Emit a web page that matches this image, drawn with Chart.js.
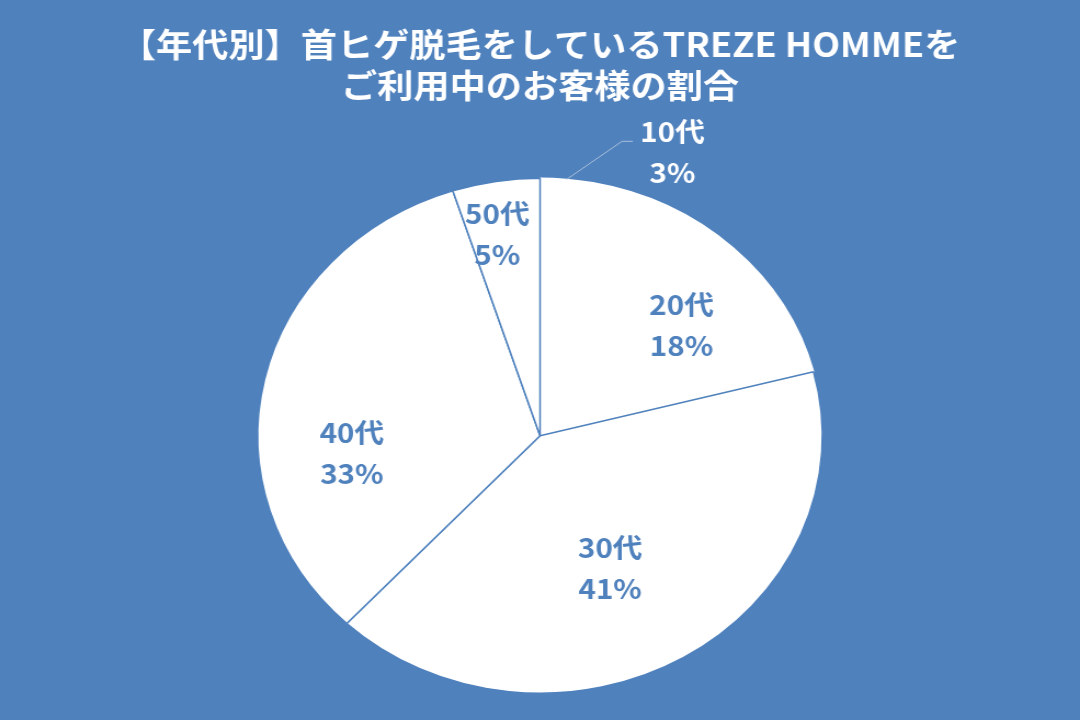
<!DOCTYPE html>
<html>
<head>
<meta charset="utf-8">
<script src="https://cdn.jsdelivr.net/npm/chart.js@4"></script>
<style>
    html, body {
        margin: 0;
        padding: 0;
        background: #4f81bd;
        overflow: hidden;
    }
    /* 元画像は横に引き伸ばされているので、同じように横方向に拡大する */
    #wrap {
        width: 985px;
        height: 720px;
        transform: scaleX(1.0965);
        transform-origin: 0 0;
    }
</style>
</head>
<body>
<div id="wrap"><canvas id="myChart"></canvas></div>
<script>
const titleLines = ['【年代別】首ヒゲ脱毛をしているTREZE HOMMEを', 'ご利用中のお客様の割合'];
const ageGroups = ['10代', '20代', '30代', '40代', '50代'];
const shares = [3, 18, 41, 33, 5];

const mainBlue = '#4f81bd';

// ラベルの位置（弧の中心角からのずれ・半径に対する比率）
const labelPlace = {
    angleShift: [17.6, 6.2, 4.8, -18.3, -1.9],
    radiusRatio: [1.2, 0.66, 0.57, 0.67, 0.8],
    color: ['#ffffff', mainBlue, mainBlue, mainBlue, mainBlue],
};

const sliceLabels = {
    id: 'sliceLabels',
    afterDatasetsDraw(chart) {
        const ctx = chart.ctx;
        const meta = chart.getDatasetMeta(0);
        const total = shares.reduce((a, b) => a + b, 0);

        meta.data.forEach((arc, i) => {
            const p = arc.getProps(['x', 'y', 'startAngle', 'endAngle', 'outerRadius'], true);
            const mid = (p.startAngle + p.endAngle) / 2;
            const ang = mid + labelPlace.angleShift[i] * Math.PI / 180;
            const r = p.outerRadius * labelPlace.radiusRatio[i];
            const lx = p.x + Math.cos(ang) * r;
            const ly = p.y + Math.sin(ang) * r;

            // 外側のラベルには引き出し線
            if (labelPlace.radiusRatio[i] > 1) {
                const ex = p.x + Math.cos(mid) * p.outerRadius;
                const ey = p.y + Math.sin(mid) * p.outerRadius;
                ctx.save();
                ctx.strokeStyle = '#a9bfdc';
                ctx.lineWidth = 1;
                ctx.beginPath();
                ctx.moveTo(ex, ey);
                ctx.lineTo(lx - 46, ly - 10);
                ctx.lineTo(lx - 36, ly - 10);
                ctx.stroke();
                ctx.restore();
            }

            ctx.save();
            ctx.fillStyle = labelPlace.color[i];
            ctx.font = 'bold 27px "Noto Sans CJK JP", "Noto Sans", sans-serif';
            ctx.textAlign = 'center';
            ctx.textBaseline = 'middle';
            ctx.fillText(ageGroups[i], lx, ly - 20);
            ctx.fillText(Math.round(shares[i] / total * 100) + '%', lx, ly + 21);
            ctx.restore();
        });
    }
};

const ctx = document.getElementById('myChart');

new Chart(ctx, {
    type: 'pie',
    data: {
        labels: ageGroups,
        datasets: [
            {
                label: '割合',
                data: shares,
                backgroundColor: '#ffffff',
                // 10代と20代の間には線がないので白で継ぎ目を隠す
                borderColor: ['#ffffff', '#ffffff', mainBlue, mainBlue, mainBlue],
                borderWidth: 1.5,
            }
        ]
    },
    options: {
        responsive: true,
        maintainAspectRatio: false,
        animation: false,
        events: [],
        layout: {
            padding: {top: 0, bottom: 26, left: 0, right: 0}
        },
        plugins: {
            legend: {
                display: false
            },
            tooltip: {
                enabled: false
            },
            title: {
                display: true,
                text: titleLines,
                color: '#ffffff',
                font: {
                    family: '"Noto Sans CJK JP", "Noto Sans", sans-serif',
                    size: 33,
                    weight: 'bold',
                    lineHeight: 1.25
                },
                padding: {top: 24, bottom: 71}
            }
        }
    },
    plugins: [sliceLabels]
});
</script>
</body>
</html>
